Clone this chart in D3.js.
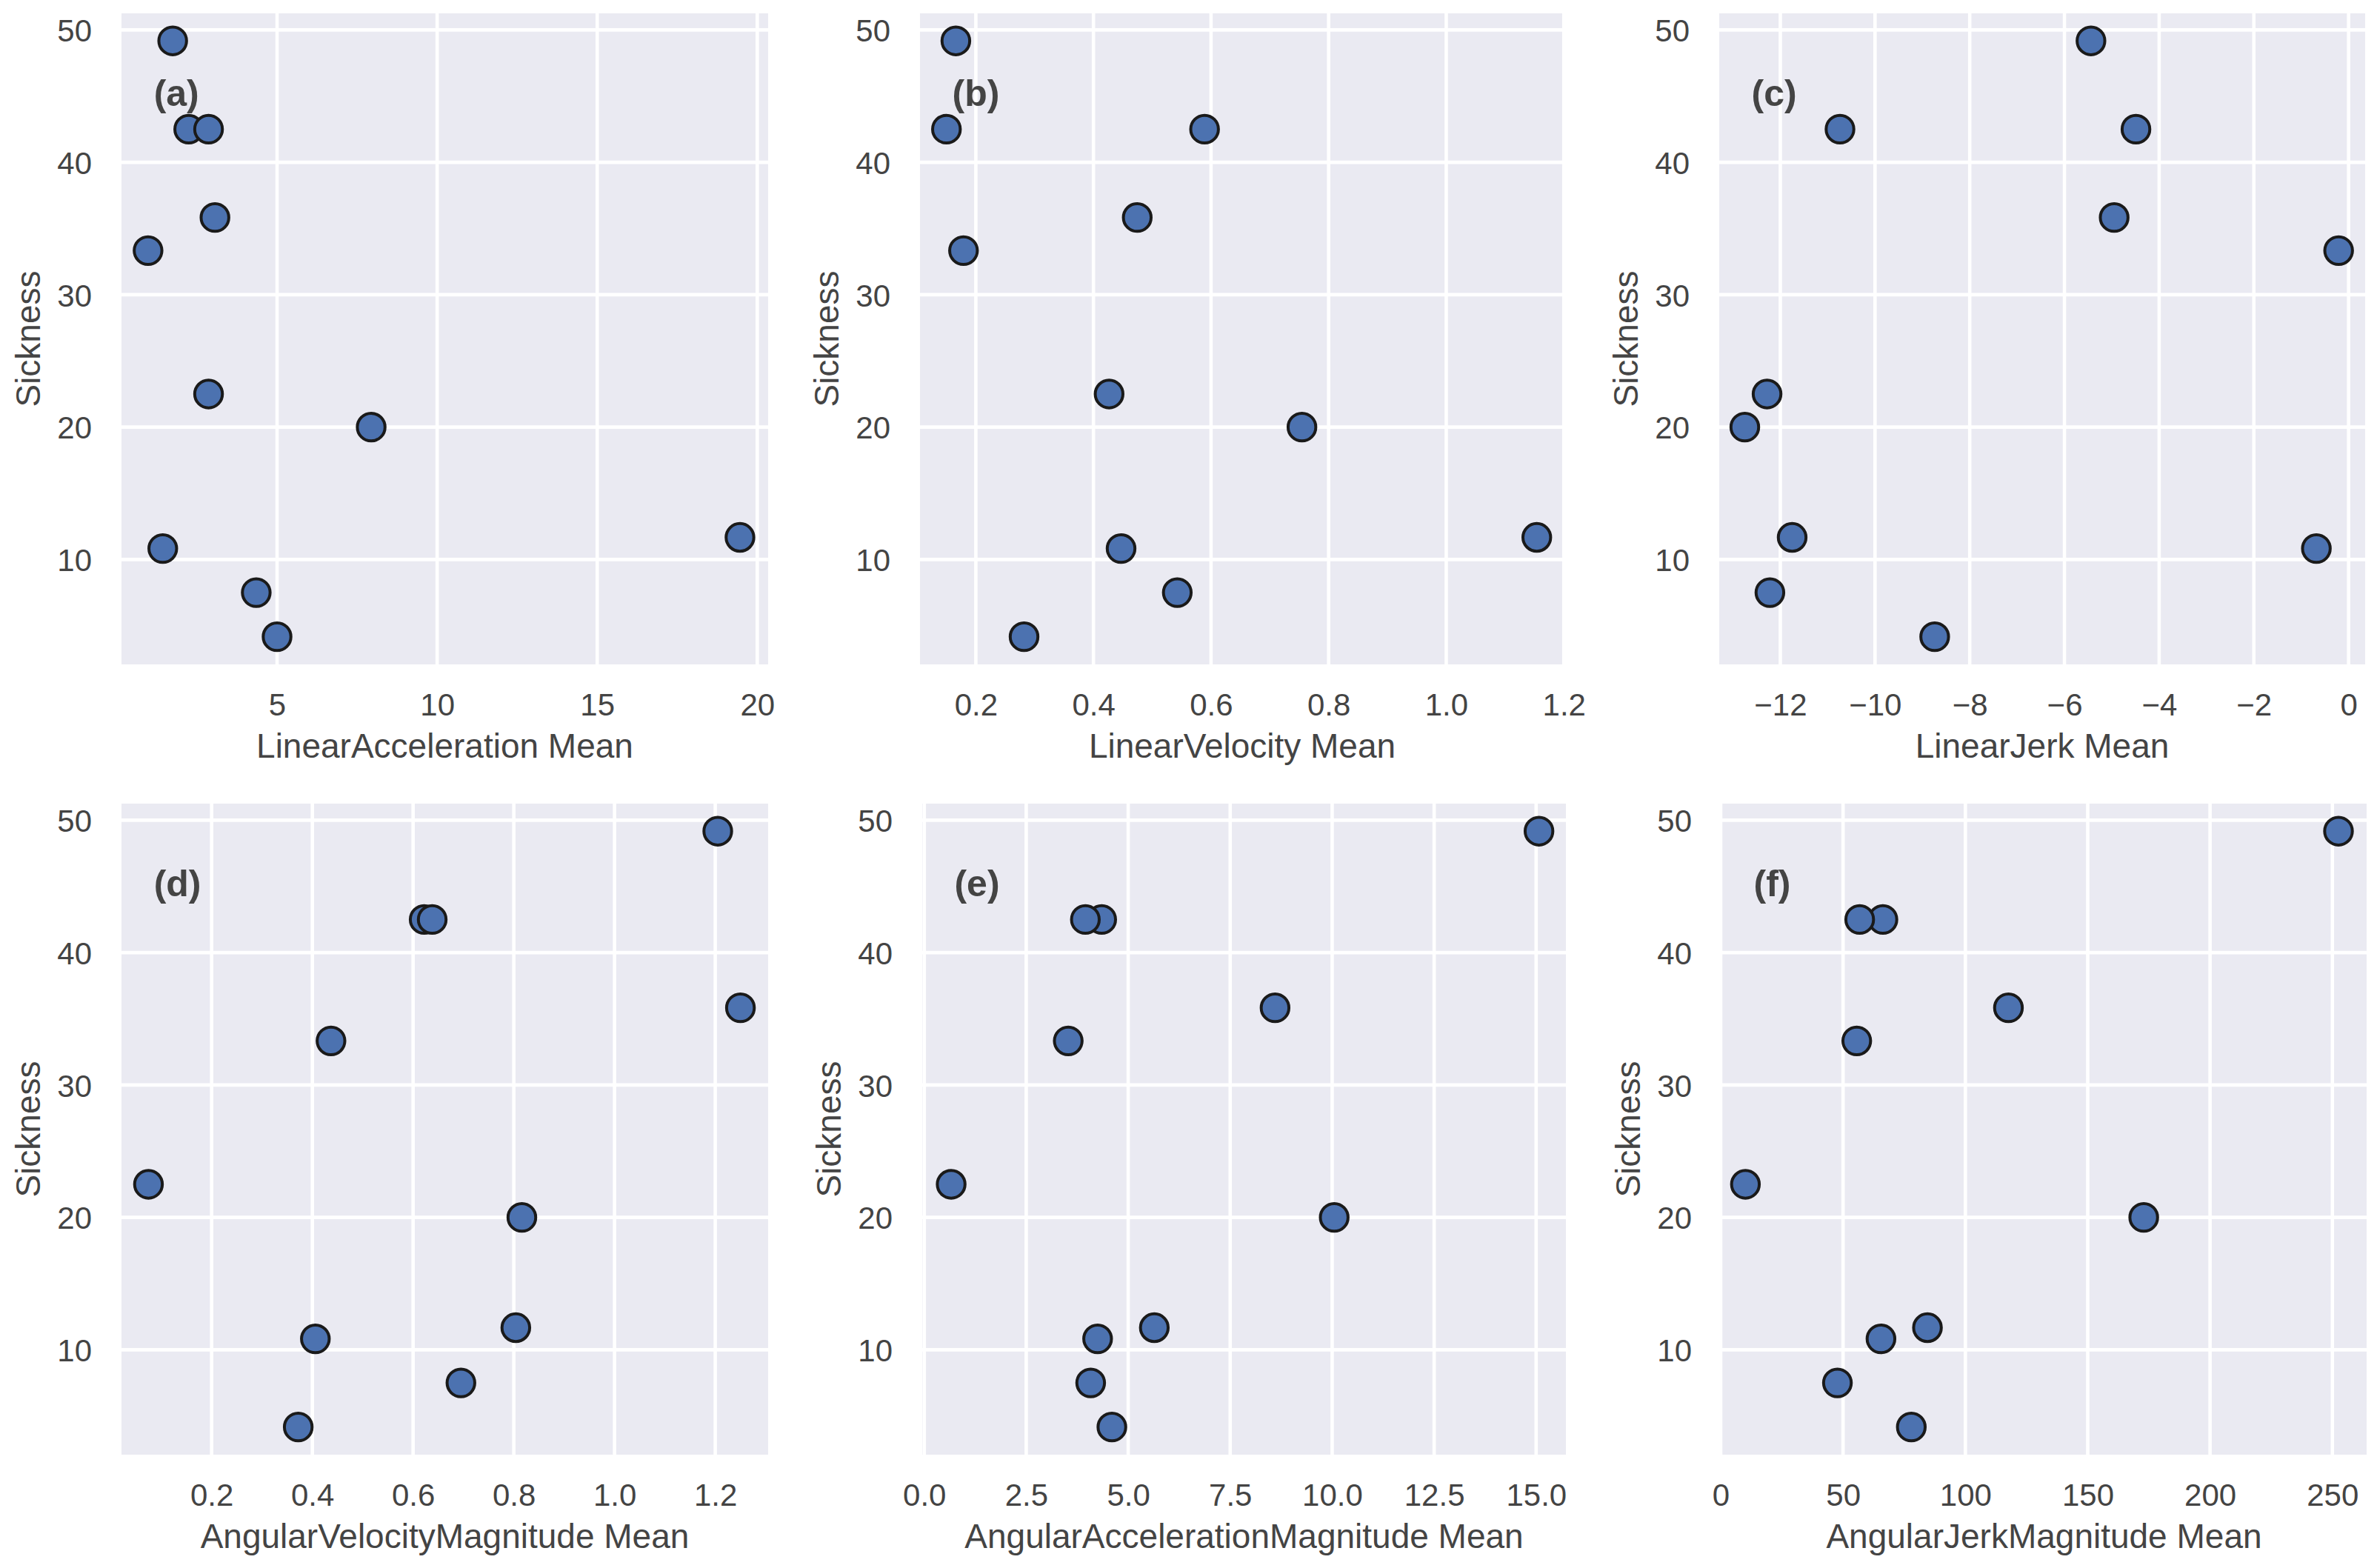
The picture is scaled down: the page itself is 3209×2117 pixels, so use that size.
<!DOCTYPE html>
<html>
<head>
<meta charset="utf-8">
<script src="https://cdn.jsdelivr.net/npm/d3@7"></script>
<style>
	html, body { margin: 0; padding: 0; background: #ffffff; }
	svg { display: block; font-family: "Liberation Sans", Arial, Helvetica, sans-serif; }
</style>
</head>
<body>
<div id="chartbox"></div>
<script>
var WIDTH = 3209;
var HEIGHT = 2117;

// sickness score per participant (same order in every panel)
var sickness = [49.17, 42.5, 42.5, 35.83, 33.33, 22.5, 20, 11.67, 10.83, 7.5, 4.17];

var linearAcceleration = [1.74, 2.24, 2.86, 3.06, 0.97, 2.86, 7.94, 19.46, 1.43, 4.35, 5.0];
var linearVelocity = [0.166, 0.150, 0.589, 0.4745, 0.179, 0.4266, 0.7546, 1.154, 0.447, 0.5426, 0.282];
var linearJerk = [-5.44, -10.74, -4.49, -4.95, -0.21, -12.28, -12.75, -11.75, -0.68, -12.22, -8.74];
var angularVelocity = [1.205, 0.622, 0.638, 1.25, 0.437, 0.0746, 0.816, 0.804, 0.406, 0.695, 0.372];
var angularAcceleration = [15.07, 4.35, 3.95, 8.6, 3.53, 0.66, 10.05, 5.64, 4.25, 4.08, 4.6];
var angularJerk = [252.5, 66.3, 56.8, 117.6, 55.6, 10.1, 172.9, 84.5, 65.5, 47.7, 77.9];

var panelLetters = ["(a)", "(b)", "(c)", "(d)", "(e)", "(f)"];
var xLabels = [
	"LinearAcceleration Mean",
	"LinearVelocity Mean",
	"LinearJerk Mean",
	"AngularVelocityMagnitude Mean",
	"AngularAccelerationMagnitude Mean",
	"AngularJerkMagnitude Mean"
];
var xTicks = [
	[5, 10, 15, 20],
	[0.2, 0.4, 0.6, 0.8, 1.0, 1.2],
	[-12, -10, -8, -6, -4, -2, 0],
	[0.2, 0.4, 0.6, 0.8, 1.0, 1.2],
	[0, 2.5, 5, 7.5, 10, 12.5, 15],
	[0, 50, 100, 150, 200, 250]
];
var xTickFormats = ["d", ".1f", "d", ".1f", ".1f", "d"];
var xDomains = [
	[0.14, 20.34],
	[0.105, 1.201],
	[-13.29, 0.35],
	[0.021, 1.305],
	[-0.05, 15.73],
	[0.3, 264]
];
var yTicks = [10, 20, 30, 40, 50];
var yDomain = [2.08, 51.25];

var xSeries = [linearAcceleration, linearVelocity, linearJerk, angularVelocity, angularAcceleration, angularJerk];

// plot frames [left, right, top]
var frames = [
	[164, 1037, 18],
	[1242, 2112, 18],
	[2321, 3193, 18],
	[164, 1037, 1085],
	[1245, 2114, 1085],
	[2324, 3195, 1085]
];
var PLOT_H = 879;

var TEXT = "#444444";

var svg = d3.select("#chartbox").append("svg")
	.attr("width", WIDTH)
	.attr("height", HEIGHT);

svg.append("rect")
	.attr("width", WIDTH)
	.attr("height", HEIGHT)
	.attr("fill", "#ffffff");

function drawPanel(i) {

	var left = frames[i][0];
	var right = frames[i][1];
	var top = frames[i][2];
	var bottom = top + PLOT_H;
	var w = right - left;

	var x = d3.scaleLinear().domain(xDomains[i]).range([left, right]);
	var y = d3.scaleLinear().domain(yDomain).range([bottom, top]);

	var g = svg.append("g").attr("class", "panel");

	g.append("rect")
		.attr("x", left)
		.attr("y", top)
		.attr("width", w)
		.attr("height", PLOT_H)
		.attr("fill", "#eaeaf2");

	var clipId = "clip" + i;
	g.append("clipPath").attr("id", clipId)
		.append("rect")
		.attr("x", left)
		.attr("y", top)
		.attr("width", w)
		.attr("height", PLOT_H);

	//grid lines
	var grid = g.append("g").attr("clip-path", "url(#" + clipId + ")");
	grid.selectAll(".vgrid")
		.data(xTicks[i])
		.enter().append("line")
		.attr("x1", function (d) { return x(d); })
		.attr("x2", function (d) { return x(d); })
		.attr("y1", top)
		.attr("y2", bottom)
		.attr("stroke", "#ffffff")
		.attr("stroke-width", 4.6);
	grid.selectAll(".hgrid")
		.data(yTicks)
		.enter().append("line")
		.attr("x1", left)
		.attr("x2", right)
		.attr("y1", function (d) { return y(d); })
		.attr("y2", function (d) { return y(d); })
		.attr("stroke", "#ffffff")
		.attr("stroke-width", 4.6);

	//axes, only the labels are visible
	var xAxis = d3.axisBottom(x)
		.tickValues(xTicks[i])
		.tickFormat(d3.format(xTickFormats[i]))
		.tickSize(0)
		.tickPadding(0);
	var gx = g.append("g")
		.attr("transform", "translate(0," + bottom + ")")
		.call(xAxis);
	gx.select(".domain").remove();
	gx.selectAll("text")
		.attr("y", 69)
		.attr("dy", null)
		.attr("fill", TEXT)
		.style("font-size", "42px");

	var yAxis = d3.axisLeft(y)
		.tickValues(yTicks)
		.tickFormat(d3.format("d"))
		.tickSize(0)
		.tickPadding(40);
	var gy = g.append("g")
		.attr("transform", "translate(" + left + ",0)")
		.call(yAxis);
	gy.select(".domain").remove();
	gy.selectAll("text")
		.attr("dy", "0.36em")
		.attr("fill", TEXT)
		.style("font-size", "42px");

	g.selectAll(".tick").attr("font-family", null).attr("font-size", null);

	//axis titles
	g.append("text")
		.attr("x", (left + right) / 2)
		.attr("y", bottom + 126)
		.attr("text-anchor", "middle")
		.attr("fill", TEXT)
		.style("font-size", "46px")
		.text(xLabels[i]);

	g.append("text")
		.attr("transform", "translate(" + (left - 127) + "," + (top + PLOT_H / 2) + ") rotate(-90)")
		.attr("text-anchor", "middle")
		.attr("dy", "0.36em")
		.attr("fill", TEXT)
		.style("font-size", "46px")
		.text("Sickness");

	//points
	g.append("g")
		.selectAll("circle")
		.data(xSeries[i])
		.enter().append("circle")
		.attr("cx", function (d) { return x(d); })
		.attr("cy", function (d, j) { return y(sickness[j]); })
		.attr("r", 18.7)
		.attr("fill", "#4c72b0")
		.attr("stroke", "#1a1a1a")
		.attr("stroke-width", 4);

	//panel letter
	g.append("text")
		.attr("x", left + 0.05 * w)
		.attr("y", top + 0.1 * PLOT_H + 37)
		.attr("fill", TEXT)
		.style("font-size", "50px")
		.style("font-weight", "bold")
		.text(panelLetters[i]);

}

for (var i = 0; i < 6; i++) {
	drawPanel(i);
}
</script>
</body>
</html>
